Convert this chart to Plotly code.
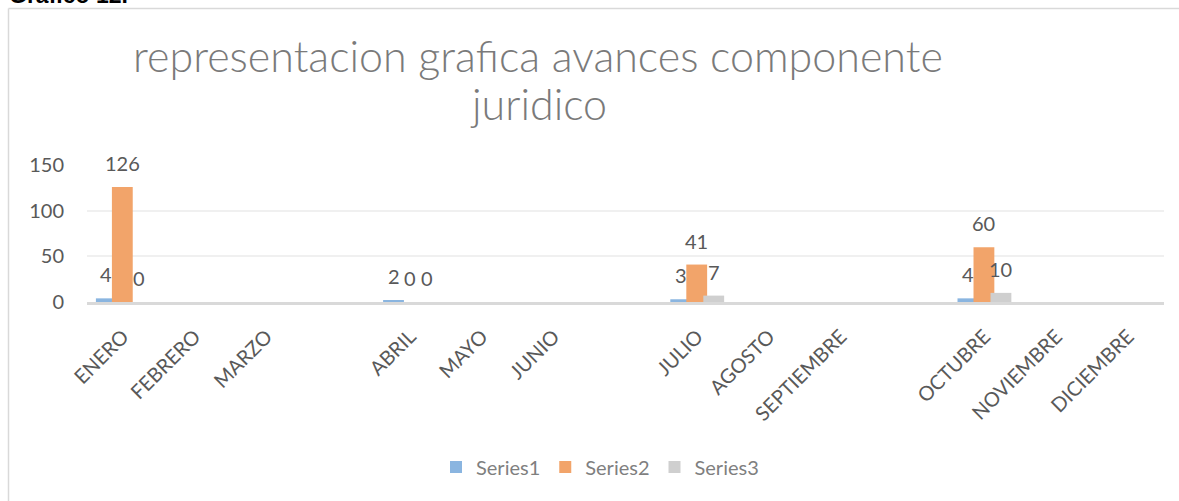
import plotly.graph_objects as go

categories = ["ENERO", "FEBRERO", "MARZO", " ", "ABRIL", "MAYO", "JUNIO", "  ",
              "JULIO", "AGOSTO", "SEPTIEMBRE", "   ", "OCTUBRE", "NOVIEMBRE", "DICIEMBRE"]
series1 = [4, None, None, None, 2, None, None, None, 3, None, None, None, 4, None, None]
series2 = [126, None, None, None, 0, None, None, None, 41, None, None, None, 60, None, None]
series3 = [0, None, None, None, 0, None, None, None, 7, None, None, None, 10, None, None]
series_names = ["Series1", "Series2", "Series3"]
y_ticks = [0, 50, 100, 150]
title_lines = ["representacion gra\u200cfica avances componente", "juridico"]

W, H = 1179, 501
ML, MR, MT, MB = 87, 15, 165, 199
plot_w = W - ML - MR
plot_h = H - MT - MB
slot_px = plot_w / len(categories)

colors = ["#8AB5E0", "#F2A46A", "#CFCFCF"]
bar_width = 0.29
offsets = [-0.376, -0.153, 0.084]
FONT = "Lato"

fig = go.Figure()
annotations = []
for name, vals, col, off in zip(series_names, [series1, series2, series3], colors, offsets):
    fig.add_trace(go.Bar(
        x=categories, y=vals, name=name,
        marker=dict(color=col, line=dict(width=0)),
        width=bar_width, offset=off,
    ))
    for c, v in zip(categories, vals):
        if v is None:
            continue
        annotations.append(dict(
            x=c, y=v, xref="x", yref="y", text=str(v), showarrow=False,
            xshift=(off + bar_width / 2) * slot_px, yshift=24,
            font=dict(family=FONT, size=20, color="#595959"),
        ))

def px_to_paper_x(px):
    return (px - ML) / plot_w

def px_to_paper_y(py):
    return (H - MB - py) / plot_h

# title (two centred lines)
for line, cy in zip(title_lines, [55, 103]):
    annotations.append(dict(
        x=px_to_paper_x(538), y=px_to_paper_y(cy), xref="paper", yref="paper",
        xanchor="center", yanchor="middle", text=line, showarrow=False,
        font=dict(family=FONT, size=43, color="#7A7A7A", weight=300),
    ))

# header text partially cut off at top
annotations.append(dict(
    x=px_to_paper_x(7), y=px_to_paper_y(10), xref="paper", yref="paper",
    xanchor="left", yanchor="bottom", text="<b>Gráfico 12.</b>", showarrow=False,
    font=dict(family="Liberation Sans", size=23, color="#000000"),
))

shapes = [
    dict(type="line", xref="paper", yref="paper",
         x0=px_to_paper_x(8.5), x1=px_to_paper_x(1185),
         y0=px_to_paper_y(8.5), y1=px_to_paper_y(8.5),
         line=dict(color="#D9D9D9", width=1.5)),
    dict(type="line", xref="paper", yref="paper",
         x0=px_to_paper_x(8.5), x1=px_to_paper_x(8.5),
         y0=px_to_paper_y(8.5), y1=px_to_paper_y(510),
         line=dict(color="#D9D9D9", width=1.5)),
]

fig.update_layout(
    width=W, height=H,
    margin=dict(l=ML, r=MR, t=MT, b=MB),
    paper_bgcolor="white", plot_bgcolor="white",
    barmode="overlay",
    showlegend=True,
    legend=dict(orientation="h", x=px_to_paper_x(600), xanchor="center",
                y=px_to_paper_y(467), yanchor="middle",
                font=dict(family=FONT, size=20, color="#7F7F7F"),
                traceorder="normal", itemwidth=30),
    annotations=annotations,
    shapes=shapes,
)
fig.update_xaxes(
    type="category", categoryorder="array", categoryarray=categories,
    tickangle=-45, tickfont=dict(family=FONT, size=20, color="#595959"),
    showline=True, linecolor="#D9D9D9", linewidth=3, showgrid=False,
    ticks="", ticklabelstandoff=12,
)
fig.update_yaxes(
    range=[0, 150], tickvals=y_ticks,
    tickfont=dict(family=FONT, size=20, color="#595959"),
    showgrid=True, gridcolor="#F0F0F0", gridwidth=1.5,
    zeroline=False, showline=False, ticks="", ticklabelstandoff=22,
)

fig.write_html("out.html",
               config={"displayModeBar": False},
               post_script="document.body.style.margin='0px';document.body.style.overflow='hidden';")
